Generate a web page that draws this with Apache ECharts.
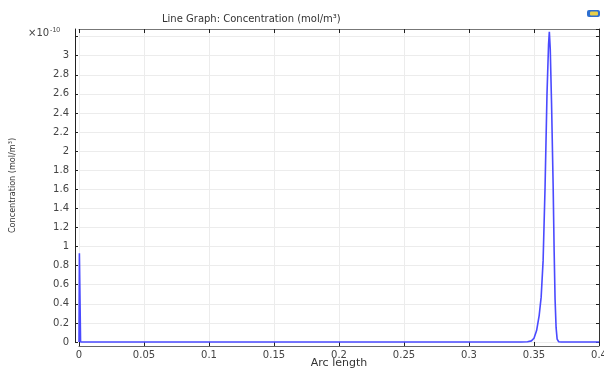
<!DOCTYPE html>
<html>
<head>
<meta charset="utf-8">
<script src="https://cdn.jsdelivr.net/npm/echarts@6/dist/echarts.min.js"></script>
<style>
  html, body { margin: 0; padding: 0; background: #fff; }
  #myChart { width: 604px; height: 369px; }
</style>
</head>
<body>
<div id="myChart"></div>
<script>
// 弧长 (x) 和浓度 (×1e-10 mol/m³)
const arcLength = [0, 0.0003, 0.0012, 0.05, 0.1, 0.2, 0.3, 0.34, 0.345, 0.348, 0.35, 0.352, 0.354, 0.3555, 0.357, 0.3585, 0.36, 0.3612, 0.3618, 0.3625, 0.3635, 0.3647, 0.3655, 0.3662, 0.367, 0.3678, 0.369, 0.371, 0.4];
const concentration = [0, 0.93, 0, 0, 0, 0, 0, 0, 0.003, 0.012, 0.04, 0.12, 0.28, 0.47, 0.85, 1.62, 2.6, 3.12, 3.25, 3.07, 2.5, 1.66, 0.95, 0.45, 0.15, 0.03, 0.003, 0, 0];

const font = 'DejaVu Sans';
const lineData = arcLength.map((x, i) => [x, concentration[i]]);

const myChart = echarts.init(document.getElementById('myChart'));
const option = {
  animation: false,
  title: {
    text: 'Line Graph: Concentration (mol/m³)',
    left: 157,
    top: 9,
    textStyle: { fontFamily: font, fontSize: 10, fontWeight: 'normal', color: '#333' }
  },
  grid: { left: 79, right: 5, top: 29, bottom: 27, outerBoundsMode: 'none', containLabel: false },
  xAxis: [
    {
      type: 'value',
      min: 0,
      max: 0.4,
      interval: 0.05,
      offset: 4,
      name: 'Arc length',
      nameLocation: 'middle',
      nameGap: 12,
      nameMoveOverlap: false,
      nameTextStyle: { fontFamily: font, fontSize: 11, color: '#333', letterSpacing: 0.5 },
      axisLine: { show: true, onZero: false, lineStyle: { color: '#666', width: 1 } },
      axisTick: { show: true, inside: true, length: 4, lineStyle: { color: '#222' } },
      axisLabel: {
        fontFamily: font, fontSize: 10, color: '#444', margin: 4, letterSpacing: 1,
        formatter: v => String(parseFloat(v.toFixed(2)))
      },
      splitLine: { show: true, lineStyle: { color: '#ececec' } }
    },
    {
      type: 'value',
      position: 'top',
      min: 0,
      max: 0.4,
      interval: 0.05,
      axisLine: { show: true, onZero: false, lineStyle: { color: '#777', width: 1 } },
      axisTick: { show: true, inside: true, length: 4, lineStyle: { color: '#222' } },
      axisLabel: { show: false },
      splitLine: { show: false }
    }
  ],
  yAxis: [
    {
      type: 'value',
      min: 0,
      max: 3.28,
      interval: 0.2,
      offset: 4,
      name: 'Concentration (mol/m³)',
      nameLocation: 'middle',
      nameGap: 58,
      nameRotate: 90,
      nameMoveOverlap: false,
      nameTextStyle: { fontFamily: "'DejaVu Sans Condensed', 'Liberation Sans Narrow', 'Liberation Sans', sans-serif", fontSize: 9, color: '#333' },
      axisLine: { show: true, onZero: false, lineStyle: { color: '#222', width: 1 } },
      axisTick: { show: true, inside: true, length: 3, lineStyle: { color: '#222' } },
      axisLabel: {
        fontFamily: font, fontSize: 10, color: '#444', margin: 6, letterSpacing: 1,
        showMaxLabel: false,
        formatter: v => v > 3.01 ? '' : String(parseFloat(v.toFixed(1)))
      },
      splitLine: { show: true, lineStyle: { color: '#ececec' } }
    },
    {
      type: 'value',
      position: 'right',
      min: 0,
      max: 3.28,
      interval: 0.2,
      axisLine: { show: true, onZero: false, lineStyle: { color: '#333', width: 1 } },
      axisTick: { show: true, inside: true, length: 3, lineStyle: { color: '#222' } },
      axisLabel: { show: false },
      splitLine: { show: false }
    }
  ],
  graphic: [
    {
      type: 'text',
      left: 28,
      top: 27,
      style: {
        text: '×10{s|-10}',
        fontFamily: font,
        fontSize: 10,
        fill: '#444',
        rich: { s: { fontSize: 7, verticalAlign: 'top', fill: '#444', padding: [0, 0, 5, 1] } }
      }
    },
    {
      type: 'rect',
      left: 587,
      top: 10,
      shape: { width: 13, height: 7, r: 2 },
      style: { fill: '#2d6fd0' }
    },
    {
      type: 'rect',
      left: 590,
      top: 11.5,
      shape: { width: 8, height: 4, r: 1 },
      style: { fill: '#e8d04a' }
    }
  ],
  series: [
    {
      type: 'line',
      data: lineData,
      showSymbol: false,
      smooth: false,
      clip: false,
      lineStyle: { color: '#4a4aff', width: 1.6 },
      itemStyle: { color: '#4a4aff' }
    }
  ]
};
myChart.setOption(option);
</script>
</body>
</html>
